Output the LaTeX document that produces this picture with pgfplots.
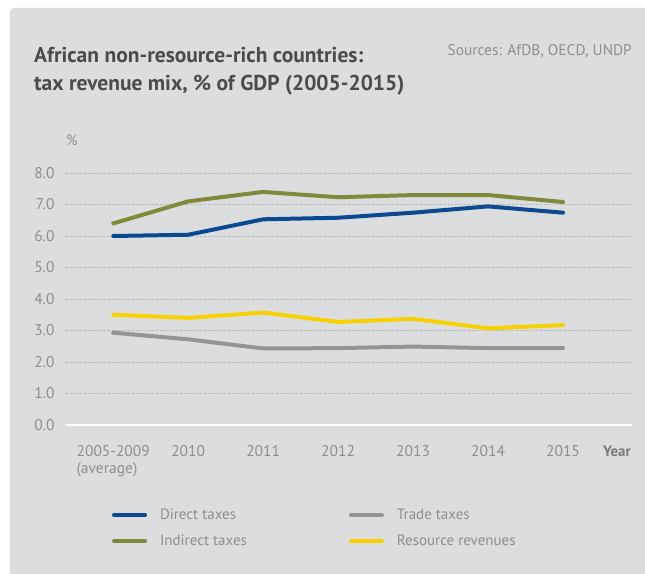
\documentclass[border=0pt]{standalone}
\usepackage{pgfplots}
\pgfplotsset{compat=1.18}
\usepackage{fontspec}
\setmainfont{PT Sans}
\definecolor{bg}{HTML}{DCDDDF}
\definecolor{direct}{HTML}{0B4A91}
\definecolor{indirect}{HTML}{7F8B3A}
\definecolor{trade}{HTML}{949494}
\definecolor{resource}{HTML}{F7D100}
\definecolor{txt}{HTML}{8E8E8E}
\definecolor{ttl}{HTML}{4B4B4B}
\begin{document}
\begin{tikzpicture}[x=1pt,y=1pt]
\useasboundingbox (0,0) rectangle (645,573);
\fill[white] (0,0) rectangle (645,573);
\fill[bg, rounded corners=4pt] (10,-10) rectangle (660,565);
% title and source
\node[anchor=north west, align=left, text=ttl, font=\fontsize{21.5}{28.5}\selectfont\bfseries, inner sep=0]
  at (34,526) {African non-resource-rich countries:\\tax revenue mix, \% of GDP (2005-2015)};
\node[anchor=north east, text=txt, font=\fontsize{15.4}{17}\selectfont, inner sep=0]
  at (632,529) {Sources: AfDB, OECD, UNDP};
\node[anchor=south west, text=txt, font=\fontsize{15}{17}\selectfont, inner sep=0] at (66,427) {\%};
\node[anchor=base, text=txt!85!black, font=\fontsize{15}{17}\selectfont\bfseries, inner sep=0] at (617,116) {Year};
\begin{axis}[
    at={(66pt,148pt)}, anchor=south west,
    scale only axis,
    width=566pt, height=252pt,
    xmin=-0.63, xmax=6.92,
    ymin=0, ymax=8,
    axis line style={draw=none},
    major tick length=0pt,
    ytick={1,2,...,8},
    extra y ticks={0},
    extra y tick style={grid style={white, solid, line width=1.6pt}},
    ymajorgrids,
    grid style={dotted, txt!70!bg, line width=0.6pt},
    xtick={0,...,6},
    xticklabels={{2005-2009\\(average)},2010,2011,2012,2013,2014,2015},
    xticklabel style={align=left, yshift=-17pt, text=txt, font=\fontsize{15.5}{17}\selectfont},
    yticklabel style={xshift=-8pt, text=txt, font=\fontsize{15.5}{17}\selectfont},
    /pgf/number format/assume math mode=true,
    yticklabel={\pgfmathprintnumber[fixed, fixed zerofill, precision=1]{\tick}},
    every axis plot/.append style={line width=4pt, line cap=round, line join=round},
    legend columns=2,
    legend cell align=left,
    legend style={at={(0.081,-0.325)}, anchor=north west, draw=none, fill=none,
      inner sep=0pt, text=txt, font=\fontsize{15}{17}\selectfont,
      row sep=10pt,
      /tikz/column 1/.style={column sep=11pt},
      /tikz/column 3/.style={column sep=11pt},
      /tikz/column 2/.style={column sep=100pt}},
    legend image code/.code={\draw[#1, line width=4pt, line cap=round] (0pt,0pt) -- (31pt,0pt);},
]
\addplot[direct] coordinates {(0,6.0)(1,6.04)(2,6.53)(3,6.58)(4,6.74)(5,6.94)(6,6.74)};
\addlegendentry{Direct taxes}
\addplot[trade] coordinates {(0,2.93)(1,2.72)(2,2.43)(3,2.44)(4,2.49)(5,2.44)(6,2.44)};
\addlegendentry{Trade taxes}
\addplot[indirect] coordinates {(0,6.4)(1,7.1)(2,7.4)(3,7.23)(4,7.3)(5,7.3)(6,7.08)};
\addlegendentry{Indirect taxes}
\addplot[resource] coordinates {(0,3.5)(1,3.4)(2,3.57)(3,3.27)(4,3.37)(5,3.07)(6,3.17)};
\addlegendentry{Resource revenues}
\end{axis}
\end{tikzpicture}
\end{document}
